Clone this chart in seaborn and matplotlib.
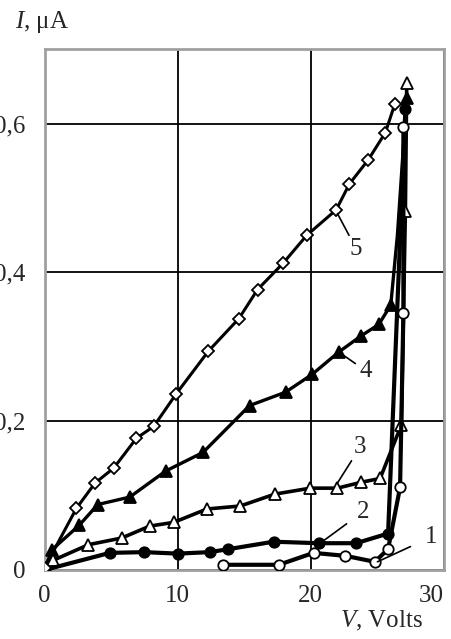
import matplotlib
matplotlib.use("Agg")
import matplotlib.pyplot as plt
import seaborn as sns
import pandas as pd

# ---- data (V in volts, I in microamps) ----
v1 = [13.4, 17.6, 20.2, 22.6, 24.8, 25.8, 26.7, 26.95, 26.95]
i1 = [0.007, 0.007, 0.023, 0.019, 0.011, 0.028, 0.111, 0.345, 0.595]

v2 = [0.0, 4.9, 7.5, 10.0, 12.4, 13.8, 17.2, 20.6, 23.4, 25.8, 27.1]
i2 = [0.0, 0.023, 0.024, 0.022, 0.024, 0.028, 0.038, 0.036, 0.036, 0.049, 0.62]

v3 = [0.0, 0.65, 3.3, 5.8, 7.9, 9.7, 12.2, 14.7, 17.3, 19.96, 22.0, 23.8, 25.2, 26.8, 27.1, 27.2]
i3 = [0.0, 0.013, 0.034, 0.043, 0.059, 0.064, 0.082, 0.086, 0.102, 0.110, 0.110, 0.118, 0.123, 0.195, 0.483, 0.654]

v4 = [0.0, 0.55, 2.6, 4.0, 6.4, 9.1, 11.9, 15.4, 18.1, 20.1, 22.1, 23.8, 25.1, 26.0, 26.5, 27.2]
i4 = [0.0, 0.027, 0.060, 0.088, 0.098, 0.133, 0.158, 0.221, 0.239, 0.263, 0.293, 0.315, 0.330, 0.356, 0.45, 0.635]
m4 = [True] * 14 + [False, True]

v5 = [0.0, 2.4, 3.8, 5.2, 6.9, 8.2, 9.9, 12.3, 14.6, 16.0, 17.9, 19.7, 21.9, 22.9, 24.3, 25.6, 26.3]
i5 = [0.003, 0.083, 0.117, 0.137, 0.177, 0.193, 0.237, 0.294, 0.338, 0.377, 0.412, 0.450, 0.484, 0.519, 0.551, 0.588, 0.626]

x_ticks = [0, 10, 20, 30]
y_ticks = [0, 0.2, 0.4, 0.6]
y_tick_labels = ["0", "0,2", "0,4", "0,6"]
curve_labels = ["1", "2", "3", "4", "5"]
# label anchor (on curve) and label position, in data units
label_on_curve = [(25.0, 0.011), (20.7, 0.036), (22.0, 0.117), (22.1, 0.293), (22.0, 0.479)]
label_pos = [(29.0, 0.044), (23.9, 0.078), (23.7, 0.165), (24.1, 0.268), (23.4, 0.432)]

sns.set_theme(style="white")
plt.rcParams["font.family"] = ["Liberation Serif", "DejaVu Serif"]
plt.rcParams["mathtext.fontset"] = "custom"
plt.rcParams["mathtext.rm"] = "Liberation Serif"
plt.rcParams["mathtext.it"] = "Liberation Serif:italic"

FS = 18
fig = plt.figure(figsize=(4.51, 6.39), dpi=100)
ax = fig.add_axes([0.0987, 0.108, 0.8858, 0.815])

ax.grid(True, color="black", linewidth=1.3)
ax.set_axisbelow(True)

def draw(v, i, marker, face, lw=2.6, ms=7, markevery=None):
    df = pd.DataFrame({"V": v, "I": i})
    sns.lineplot(data=df, x="V", y="I", ax=ax, sort=False, estimator=None,
                 color="black", linewidth=lw, marker=marker, markersize=ms,
                 markerfacecolor=face, markeredgecolor="black",
                 markeredgewidth=1.3, markevery=markevery, zorder=3)

draw(v4, i4, "^", "black", lw=2.4, ms=8.5, markevery=m4)
draw(v3, i3, "^", "white", lw=2.6, ms=9)
draw(v2, i2, "o", "black", lw=3.0, ms=7.5)
draw(v1, i1, "o", "white", lw=3.0, ms=7.5)
draw(v5, i5, "D", "white", lw=2.2, ms=6.5)

ax.set_xlim(0, 30)
ax.set_ylim(0, 0.7)
ax.set_xticks(x_ticks)
ax.set_xticklabels([str(t) for t in x_ticks], fontsize=FS)
ax.set_yticks(y_ticks)
ax.set_yticklabels(y_tick_labels, fontsize=FS)
ax.tick_params(axis="x", length=0, pad=11)
ax.tick_params(axis="y", length=0, pad=14)
xl = ax.get_xticklabels()
xl[-1].set_horizontalalignment("right")
ax.set_xlabel("")
ax.set_ylabel("")
for s in ax.spines.values():
    s.set_color("#a0a0a0")
    s.set_linewidth(2)

for lab, (xa, ya), (xt, yt) in zip(curve_labels, label_on_curve, label_pos):
    dx, dy = xt - xa, yt - ya
    ax.plot([xa, xa + 0.62 * dx], [ya, ya + 0.62 * dy], color="black", lw=1.2, zorder=5)
    ax.text(xt, yt, lab, fontsize=FS, ha="center", va="center", zorder=5)

fig.text(0.093, 0.966, "$I$, μA", fontsize=FS, ha="center", va="center")
fig.text(0.845, 0.028, "$V$, Volts", fontsize=FS, ha="center", va="center")

fig.savefig("out.png", dpi=100)
